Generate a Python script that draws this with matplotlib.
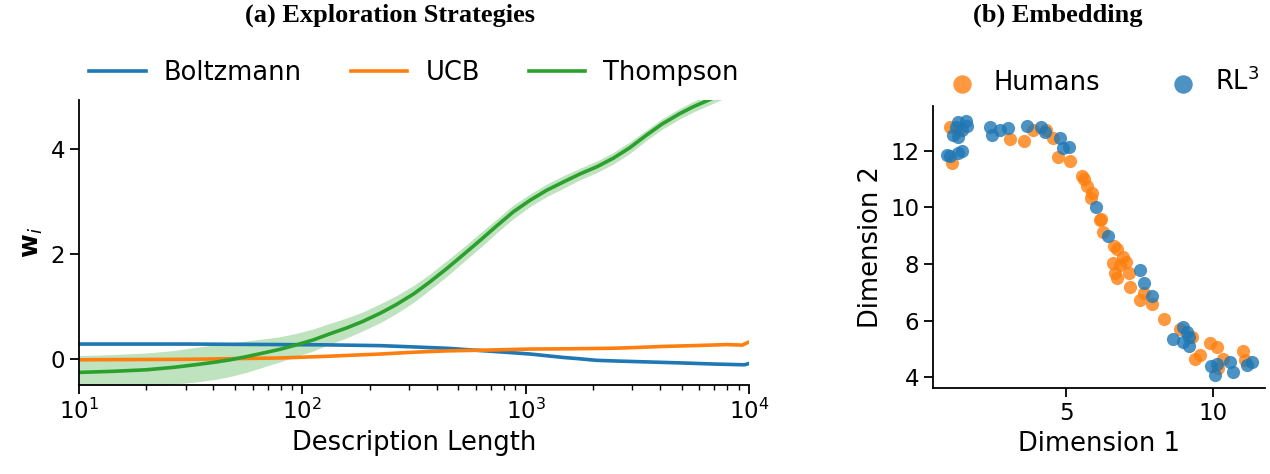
import numpy as np
import matplotlib
matplotlib.use("Agg")
import matplotlib.pyplot as plt

# ---------------- data: (a) exploration strategies ----------------
thompson_x = [10, 14.1, 20.0, 26.3, 33.1, 39.8, 46.8, 56.2, 66.1, 79.4, 93.3, 112.2, 131.8,
              158.5, 186.2, 223.9, 263.0, 316.2, 371.5, 446.7, 524.8, 631.0, 741.3, 881.0,
              1047, 1242, 1479, 1750, 2089, 2466, 2924, 3475, 4074, 4898, 5623, 6442,
              7943, 10000]
thompson_y = [-0.26, -0.24, -0.21, -0.165, -0.115, -0.07, -0.025, 0.04, 0.105, 0.18, 0.26, 0.36,
              0.47, 0.59, 0.71, 0.87, 1.03, 1.24, 1.46, 1.73, 1.98, 2.27, 2.53, 2.80,
              3.02, 3.21, 3.37, 3.52, 3.66, 3.82, 4.02, 4.26, 4.47, 4.67, 4.80, 4.91,
              5.08, 5.25]
thompson_err = [0.32, 0.32, 0.32, 0.32, 0.33, 0.33, 0.32, 0.30, 0.27, 0.24, 0.22, 0.21,
                0.20, 0.19, 0.18, 0.18, 0.17, 0.16, 0.15, 0.15, 0.14, 0.14, 0.13, 0.13,
                0.12, 0.12, 0.12, 0.11, 0.11, 0.11, 0.11, 0.10, 0.10, 0.10, 0.10, 0.10,
                0.10, 0.10]

boltz_x = [10, 31.6, 79.4, 125.9, 223.4, 316.2, 443.6, 562.3, 716.1, 871.0, 1047, 1259,
           1472, 1738, 2075, 2630, 3475, 5012, 6902, 8511, 9550, 10000]
boltz_y = [0.28, 0.28, 0.27, 0.265, 0.25, 0.225, 0.20, 0.17, 0.14, 0.115, 0.09, 0.055,
           0.025, 0.0, -0.03, -0.045, -0.06, -0.08, -0.10, -0.11, -0.115, -0.09]

ucb_x = [10, 31.6, 79.4, 125.9, 223.4, 316.2, 443.6, 668.3, 1047, 1585, 2466, 3162, 4121,
         5623, 7943, 9333, 10000]
ucb_y = [-0.02, -0.01, 0.015, 0.045, 0.09, 0.125, 0.15, 0.165, 0.185, 0.19, 0.20, 0.215,
         0.235, 0.25, 0.27, 0.26, 0.32]

strategy_names = ["Boltzmann", "UCB", "Thompson"]

# ---------------- data: (b) embedding ----------------
humans_x = [1.10, 1.05, 3.09, 3.55, 3.89, 4.57, 4.74, 5.14, 5.53, 5.61, 5.70, 5.88, 5.84,
            6.18, 6.14, 6.27, 6.64, 6.73, 6.95, 7.05, 6.61, 6.84, 6.67, 6.75, 7.13, 7.18,
            7.52, 7.64, 7.92, 8.34, 8.89, 9.28, 9.40, 9.57, 9.91, 10.14, 10.36, 10.19,
            11.02, 11.10, 1.30, 4.30]
humans_y = [11.58, 12.85, 12.40, 12.35, 12.73, 12.44, 11.79, 11.65, 11.11, 10.99, 10.75,
            10.49, 10.32, 9.58, 9.55, 9.14, 8.64, 8.52, 8.26, 8.08, 8.02, 7.96, 7.67, 7.49,
            7.67, 7.18, 6.73, 6.96, 6.59, 6.06, 5.69, 5.41, 4.64, 4.79, 5.20, 5.06, 4.64,
            4.32, 4.91, 4.61, 12.70, 12.75]

rl3_x = [0.93, 1.05, 1.33, 1.44, 1.16, 1.25, 1.33, 1.59, 1.61, 1.44, 1.33, 2.41, 2.47,
         2.75, 3.03, 3.66, 4.14, 4.28, 4.80, 4.91, 5.11, 6.02, 6.44, 7.52, 7.66, 7.92,
         8.66, 8.98, 9.11, 9.20, 9.00, 9.20, 9.93, 10.08, 10.14, 10.59, 10.70, 11.16, 11.33]
rl3_y = [11.85, 11.81, 11.93, 12.00, 12.55, 12.85, 13.02, 13.06, 12.87, 12.73, 12.49,
         12.85, 12.55, 12.75, 12.82, 12.87, 12.85, 12.67, 12.44, 12.08, 12.14, 10.02, 8.99,
         7.79, 7.34, 6.87, 5.34, 5.79, 5.61, 5.41, 5.26, 5.11, 4.38, 4.08, 4.47, 4.55,
         4.20, 4.44, 4.55]

group_names = ["Humans", "RL$^3$"]

# ---------------- style ----------------
plt.rcParams.update({
    "font.family": ["DejaVu Sans"],
    "axes.labelsize": 18.5,
    "xtick.labelsize": 16.5,
    "ytick.labelsize": 16.5,
    "legend.fontsize": 18.5,
    "axes.linewidth": 1.3,
    "xtick.major.width": 1.3,
    "ytick.major.width": 1.3,
    "xtick.minor.width": 1.0,
    "xtick.major.size": 6.5,
    "ytick.major.size": 6.5,
    "xtick.minor.size": 3.8,
})

blue, orange, green = "#1f77b4", "#ff7f0e", "#2ca02c"

fig = plt.figure(figsize=(12.7, 4.74), dpi=100)
W, H = 1270.0, 474.0

def px_axes(x0, x1, ytop, ybot):
    return fig.add_axes([x0 / W, 1 - ybot / H, (x1 - x0) / W, (ybot - ytop) / H])

ax1 = px_axes(79, 749, 100.5, 385)
ax2 = px_axes(933, 1265, 106, 388.3)

# ---- (a) ----
ax1.fill_between(thompson_x,
                 np.array(thompson_y) - np.array(thompson_err),
                 np.array(thompson_y) + np.array(thompson_err),
                 color=green, alpha=0.3, linewidth=0)
ax1.plot(boltz_x, boltz_y, color=blue, lw=2.6, label=strategy_names[0])
ax1.plot(ucb_x, ucb_y, color=orange, lw=2.6, label=strategy_names[1])
ax1.plot(thompson_x, thompson_y, color=green, lw=2.6, label=strategy_names[2])
ax1.set_xscale("log")
ax1.set_xlim(10, 10000)
ax1.set_ylim(-0.5, 4.92)
ax1.set_yticks([0, 2, 4])
ax1.set_xlabel("Description Length")
ax1.set_ylabel(r"$\mathbf{w}_i$")
for s in ["top", "right"]:
    ax1.spines[s].set_visible(False)
ax1.legend(loc="center", bbox_to_anchor=(0.5, 1.098), ncol=3, frameon=False,
           handlelength=2.2, handletextpad=0.7, columnspacing=1.9, borderaxespad=0)

# ---- (b) ----
ax2.scatter(humans_x, humans_y, s=90, color=orange, alpha=0.8, linewidths=0, label=group_names[0])
ax2.scatter(rl3_x, rl3_y, s=90, color=blue, alpha=0.8, linewidths=0, label=group_names[1])
ax2.set_xlim(0.465, 11.78)
ax2.set_ylim(3.61, 13.58)
ax2.set_xticks([5, 10])
ax2.set_yticks([4, 6, 8, 10, 12])
ax2.set_xlabel("Dimension 1")
ax2.set_ylabel("Dimension 2")
for s in ["top", "right"]:
    ax2.spines[s].set_visible(False)
ax2.legend(loc="center", bbox_to_anchor=(0.515, 1.085), ncol=2, frameon=False,
           markerscale=1.4, handlelength=1.0, handletextpad=0.75, columnspacing=2.7,
           borderaxespad=0, borderpad=0)

# ---- titles ----
fig.text(390 / W, 1 - 15 / H, "(a) Exploration Strategies", ha="center", va="center",
         family="Liberation Serif", fontweight="bold", fontsize=19)
fig.text(1058 / W, 1 - 15 / H, "(b) Embedding", ha="center", va="center",
         family="Liberation Serif", fontweight="bold", fontsize=19)

fig.savefig("out.png", dpi=100)
